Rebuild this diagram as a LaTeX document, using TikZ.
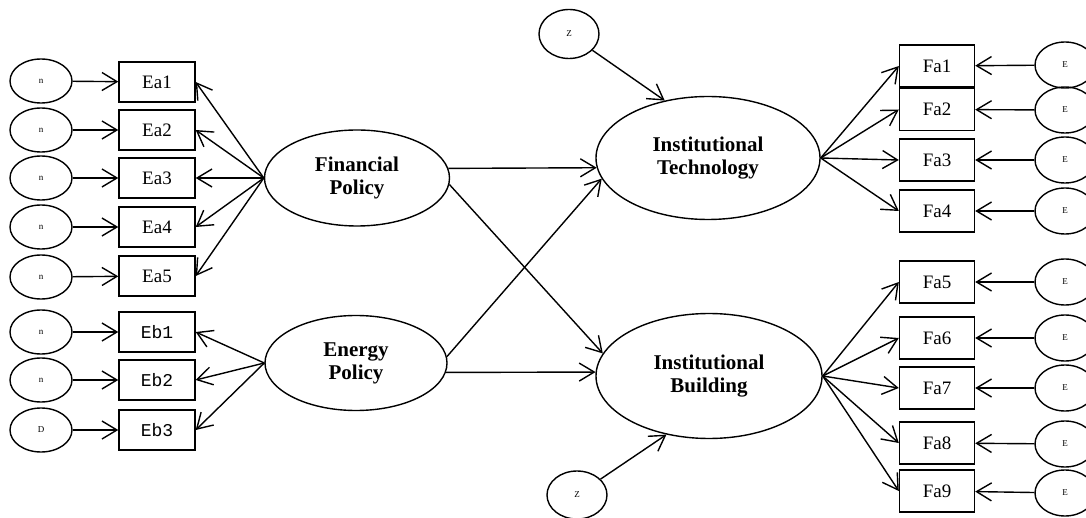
\documentclass[tikz,border=0pt]{standalone}
\usepackage{fontspec}
\setmainfont{Liberation Serif}
\newfontfamily\courfont{Liberation Mono}
\usetikzlibrary{shapes.geometric,arrows.meta}

\begin{document}
\begin{tikzpicture}[x=1pt,y=-1pt,line width=1.4pt,
    lat/.style={draw,ellipse,inner sep=0pt,align=center,font=\fontsize{21}{23}\selectfont\bfseries},
    ind/.style={draw,minimum width=76pt,minimum height=40pt,inner sep=0pt,font=\fontsize{19}{21}\selectfont},
    err/.style={draw,ellipse,minimum width=62pt,minimum height=44pt,inner sep=0pt,font=\fontsize{9}{10}\selectfont},
    arr/.style={-{Straight Barb[length=15pt,width=18pt]}}]
      \clip (0,0) rectangle (1086,518);
      \node[err] (n1) at (41,81) {n};
      \node[err] (n2) at (41,130) {n};
      \node[err] (n3) at (41,178) {n};
      \node[err] (n4) at (41,227) {n};
      \node[err] (n5) at (41,277) {n};
      \node[err] (d1) at (41,332) {n};
      \node[err] (d2) at (41,380) {n};
      \node[err] (d3) at (41,430) {D};
      \node[ind] (ea1) at (157,82) {Ea1};
      \node[ind] (ea2) at (157,130) {Ea2};
      \node[ind] (ea3) at (157,178) {Ea3};
      \node[ind] (ea4) at (157,227) {Ea4};
      \node[ind] (ea5) at (157,276) {Ea5};
      \node[ind,font=\courfont\fontsize{18}{20}\selectfont] (eb1) at (157,332) {Eb1};
      \node[ind,font=\courfont\fontsize{18}{20}\selectfont] (eb2) at (157,380) {Eb2};
      \node[ind,font=\courfont\fontsize{18}{20}\selectfont] (eb3) at (157,430) {Eb3};
      \node[lat,minimum width=185pt,minimum height=96pt] (fp) at (357,178) {Financial\\Policy};
      \node[lat,minimum width=182pt,minimum height=95pt] (ep) at (356,363) {Energy\\Policy};
      \node[lat,minimum width=224pt,minimum height=123pt] (it) at (708,158) {Institutional\\Technology};
      \node[lat,minimum width=226pt,minimum height=125pt] (ib) at (709,376) {Institutional\\Building};
      \node[err,minimum width=60pt,minimum height=49pt] (z1) at (569,34) {Z};
      \node[err,minimum width=60pt,minimum height=48pt] (z2) at (577,495) {Z};
      \node[ind,minimum width=75pt,minimum height=42pt] (fa1) at (937,66) {Fa1};
      \node[ind,minimum width=75pt,minimum height=42pt] (fa2) at (937,109.5) {Fa2};
      \node[ind,minimum width=75pt,minimum height=42pt] (fa3) at (937,160) {Fa3};
      \node[ind,minimum width=75pt,minimum height=42pt] (fa4) at (937,211) {Fa4};
      \node[ind,minimum width=75pt,minimum height=42pt] (fa5) at (937,282) {Fa5};
      \node[ind,minimum width=75pt,minimum height=42pt] (fa6) at (937,338) {Fa6};
      \node[ind,minimum width=75pt,minimum height=42pt] (fa7) at (937,388) {Fa7};
      \node[ind,minimum width=75pt,minimum height=42pt] (fa8) at (937,443) {Fa8};
      \node[ind,minimum width=75pt,minimum height=42pt] (fa9) at (937,491) {Fa9};
      \node[err,minimum width=60pt,minimum height=46pt] (e1) at (1065,65) {E};
      \node[err,minimum width=60pt,minimum height=46pt] (e2) at (1065,110) {E};
      \node[err,minimum width=60pt,minimum height=46pt] (e3) at (1065,160) {E};
      \node[err,minimum width=60pt,minimum height=46pt] (e4) at (1065,211) {E};
      \node[err,minimum width=60pt,minimum height=46pt] (e5) at (1065,282) {E};
      \node[err,minimum width=60pt,minimum height=46pt] (e6) at (1065,338) {E};
      \node[err,minimum width=60pt,minimum height=46pt] (e7) at (1065,388) {E};
      \node[err,minimum width=60pt,minimum height=46pt] (e8) at (1065,444) {E};
      \node[err,minimum width=60pt,minimum height=46pt] (e9) at (1065,493) {E};
      \draw[arr] (n1)--(ea1);
      \draw[arr] (n2)--(ea2);
      \draw[arr] (n3)--(ea3);
      \draw[arr] (n4)--(ea4);
      \draw[arr] (n5)--(ea5);
      \draw[arr] (d1)--(eb1);
      \draw[arr] (d2)--(eb2);
      \draw[arr] (d3)--(eb3);
      \draw[arr] (fp.west)--(ea1.east);
      \draw[arr] (fp.west)--(ea2.east);
      \draw[arr] (fp.west)--(ea3.east);
      \draw[arr] (fp.west)--(ea4.east);
      \draw[arr] (fp.west)--(ea5.east);
      \draw[arr] (ep.west)--(eb1.east);
      \draw[arr] (ep.west)--(eb2.east);
      \draw[arr] (ep.west)--(eb3.east);
      \draw[arr] (fp.6)--(it.185);
      \draw[arr] (fp.-4)--(ib.168);
      \draw[arr] (ep.4)--(it.191);
      \draw[arr] (ep.-6)--(ib.178);
      \draw[arr] (z1)--(it.127);
      \draw[arr] (z2)--(ib.234);
      \draw[arr] (it.east)--(fa1.west);
      \draw[arr] (it.east)--(fa2.west);
      \draw[arr] (it.east)--(fa3.west);
      \draw[arr] (it.east)--(fa4.west);
      \draw[arr] (ib.east)--(fa5.west);
      \draw[arr] (ib.east)--(fa6.west);
      \draw[arr] (ib.east)--(fa7.west);
      \draw[arr] (ib.east)--(fa8.west);
      \draw[arr] (ib.east)--(fa9.west);
      \draw[arr] (e1)--(fa1);
      \draw[arr] (e2)--(fa2);
      \draw[arr] (e3)--(fa3);
      \draw[arr] (e4)--(fa4);
      \draw[arr] (e5)--(fa5);
      \draw[arr] (e6)--(fa6);
      \draw[arr] (e7)--(fa7);
      \draw[arr] (e8)--(fa8);
      \draw[arr] (e9)--(fa9);
    \end{tikzpicture}
\end{document}
